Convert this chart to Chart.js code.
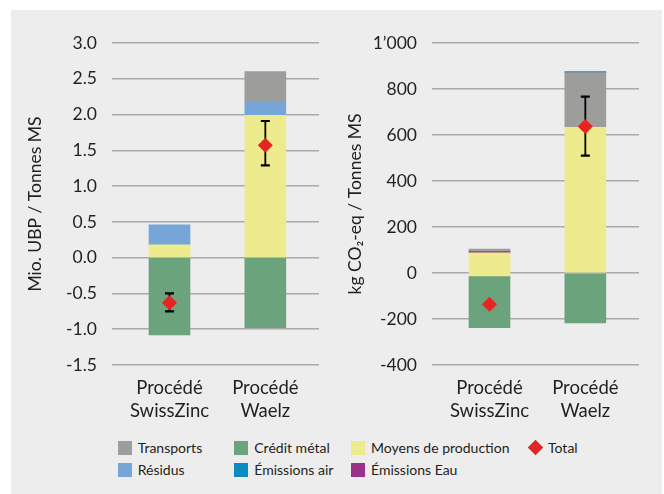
<!DOCTYPE html>
<html>
<head>
<meta charset="utf-8">
<script src="https://cdn.jsdelivr.net/npm/chart.js@4"></script>
<style>
  body { margin: 0; background: #fff; font-family: Lato, sans-serif; }
  #panel { position: absolute; left: 11px; top: 10px; width: 651px; height: 484px; background: #ededed; }
  canvas { position: absolute; top: 0; }
  #ubpChart { left: 0; }
  #co2Chart { left: 320px; }
  .leg { position: absolute; font-size: 14px; color: #231f20; line-height: 14px; white-space: nowrap; }
  .leg i { position: absolute; left: 0; top: 0; width: 14px; height: 14px; }
  .leg span { position: absolute; left: 20px; top: 0; }
  .leg i.dia { width: 11px; height: 11px; left: 2px; top: 1.5px; transform: rotate(45deg); }
</style>
</head>
<body>
<div id="panel">
  <canvas id="ubpChart" width="320" height="410"></canvas>
  <canvas id="co2Chart" width="320" height="410"></canvas>
  <div id="legend"></div>
</div>
<script>
// categories
const categories = [['Procédé', 'SwissZinc'], ['Procédé', 'Waelz']];

// Mio. UBP / Tonnes MS  -- segments as [from, to], null = absent
const ubpTransports = [null, [2.19, 2.6]];
const ubpResidus = [[0.19, 0.46], [2.0, 2.19]];
const ubpCredit = [[-1.08, 0], [-0.98, 0]];
const ubpEmAir = [null, null];
const ubpMoyens = [[0, 0.19], [0, 2.0]];
const ubpEmEau = [null, null];
const ubpTotal = [-0.63, 1.57];
const ubpErrLow = [-0.75, 1.29];
const ubpErrHigh = [-0.50, 1.91];

// kg CO2-eq / Tonnes MS
const co2Transports = [[96, 104], [636, 871]];
const co2Residus = [null, null];
const co2Credit = [[-238, -16], [-217, 0]];
const co2EmAir = [null, [871, 876]];
const co2Moyens = [[-16, 88], [0, 636]];
const co2EmEau = [[88, 96], null];
const co2Total = [-136, 637];
const co2ErrLow = [null, 510];
const co2ErrHigh = [null, 767];

const seriesNames = ['Transports', 'Résidus', 'Crédit métal', 'Émissions air', 'Moyens de production', 'Émissions Eau'];
const seriesColors = ['#9d9d9c', '#76a5d8', '#6ba37d', '#0b8bc0', '#eeeb8e', '#9b3288'];
const totalColor = '#e52521';
const textColor = '#231f20';

function toPoints(arr) {
    return arr.map((v, i) => v === null ? null : { x: i, y: v }).filter(p => p);
}

// draws the error bars just before the total markers
function makeErrorBars(low, high) {
    return {
        id: 'errorBars',
        beforeDatasetDraw(chart, args) {
            if (chart.data.datasets[args.index].type !== 'line') return;
            const ctx = chart.ctx;
            const xs = chart.scales.x, ys = chart.scales.y;
            ctx.save();
            ctx.strokeStyle = '#000';
            low.forEach((lo, i) => {
                if (lo === null) return;
                const x = xs.getPixelForValue(i);
                const y1 = ys.getPixelForValue(lo), y2 = ys.getPixelForValue(high[i]);
                ctx.lineWidth = 1.8;
                ctx.beginPath();
                ctx.moveTo(x, y1); ctx.lineTo(x, y2);
                ctx.stroke();
                ctx.lineWidth = 2.2;
                ctx.beginPath();
                ctx.moveTo(x - 4.5, y1); ctx.lineTo(x + 4.5, y1);
                ctx.moveTo(x - 4.5, y2); ctx.lineTo(x + 4.5, y2);
                ctx.stroke();
            });
            ctx.restore();
        }
    };
}

function createChartConfig(segments, total, errLow, errHigh, yMin, yMax, yStep, yTitle, tickFmt) {
    const datasets = segments.map((seg, k) => ({
        type: 'bar',
        label: seriesNames[k],
        data: toPoints(seg),
        backgroundColor: seriesColors[k],
        borderWidth: 0,
        barThickness: 41,
        grouped: false,
        order: 1
    }));
    datasets.push({
        type: 'line',
        label: 'Total',
        data: toPoints(total),
        showLine: false,
        pointStyle: 'rectRot',
        pointRadius: 7.5,
        pointBackgroundColor: totalColor,
        pointBorderWidth: 0,
        order: 0
    });
    return {
        data: { datasets: datasets },
        options: {
            responsive: false,
            animation: false,
            layout: { padding: { top: 33, right: 12, left: 0, bottom: 0 } },
            plugins: { legend: { display: false }, tooltip: { enabled: false } },
            scales: {
                x: {
                    type: 'linear',
                    min: -0.6,
                    max: 1.56,
                    offset: false,
                    grid: { display: false },
                    border: { display: false },
                    afterBuildTicks: axis => { axis.ticks = [{ value: 0 }, { value: 1 }]; },
                    afterFit: axis => { axis.height = 55; },
                    ticks: {
                        padding: 3,
                        color: textColor,
                        font: { family: 'Lato', size: 18.5, lineHeight: 1.25 },
                        callback: v => categories[v]
                    }
                },
                y: {
                    min: yMin,
                    max: yMax,
                    grid: { color: '#a9a9a9', lineWidth: 1.5, drawTicks: false },
                    border: { display: false },
                    afterFit: axis => { axis.width = 101; },
                    ticks: {
                        stepSize: yStep,
                        padding: 15,
                        color: textColor,
                        font: { family: 'Lato', size: 17.5 },
                        callback: tickFmt
                    },
                    title: {
                        display: true,
                        text: yTitle,
                        color: textColor,
                        font: { family: 'Lato', size: 17.5 },
                        padding: { top: 14, bottom: 0 }
                    }
                }
            }
        },
        plugins: [makeErrorBars(errLow, errHigh)]
    };
}

new Chart(
    document.getElementById('ubpChart'),
    createChartConfig(
        [ubpTransports, ubpResidus, ubpCredit, ubpEmAir, ubpMoyens, ubpEmEau],
        ubpTotal, ubpErrLow, ubpErrHigh, -1.5, 3.0, 0.5,
        'Mio. UBP / Tonnes MS', v => v.toFixed(1))
);

new Chart(
    document.getElementById('co2Chart'),
    createChartConfig(
        [co2Transports, co2Residus, co2Credit, co2EmAir, co2Moyens, co2EmEau],
        co2Total, co2ErrLow, co2ErrHigh, -400, 1000, 200,
        'kg CO₂-eq / Tonnes MS', v => v === 1000 ? '1’000' : String(v))
);

// legend (two rows, four columns)
const legendCols = [106.7, 223.3, 340, 517];
const legendRows = [430.7, 453.3];
const legendEl = document.getElementById('legend');
const legendItems = seriesNames.map((n, k) => ({ name: n, color: seriesColors[k], col: Math.floor(k / 2), row: k % 2 }));
legendItems.push({ name: 'Total', color: totalColor, col: 3, row: 0, diamond: true });
legendItems.forEach(it => {
    const d = document.createElement('div');
    d.className = 'leg';
    d.style.left = legendCols[it.col] + 'px';
    d.style.top = legendRows[it.row] + 'px';
    d.innerHTML = '<i class="' + (it.diamond ? 'dia' : '') + '" style="background:' + it.color + '"></i><span>' + it.name + '</span>';
    legendEl.appendChild(d);
});
</script>
</body>
</html>
